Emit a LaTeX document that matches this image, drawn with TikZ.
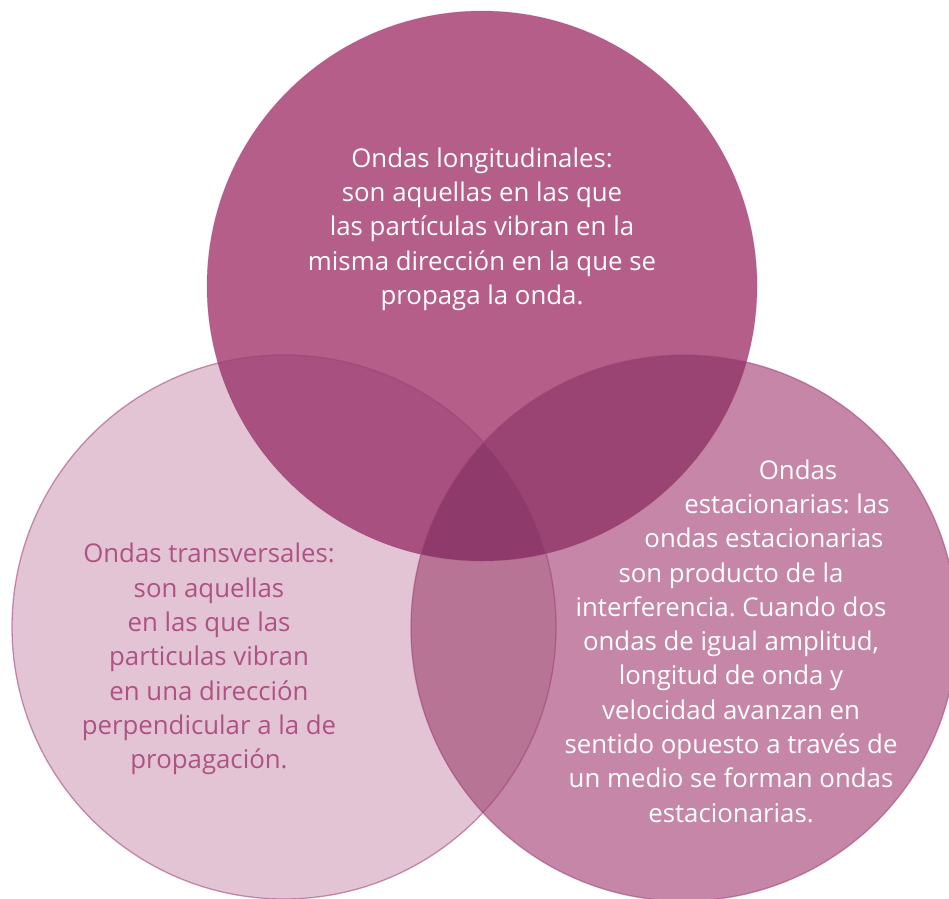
\documentclass[tikz,border=0pt]{standalone}
\usepackage{fontspec}
\setmainfont{Open Sans}
\frenchspacing
\definecolor{cT}{HTML}{B55E8A}
\definecolor{cL}{HTML}{E2C4D4}
\definecolor{cR}{HTML}{C686A8}
\definecolor{cTL}{HTML}{A8507F}
\definecolor{cTR}{HTML}{9A4473}
\definecolor{cLR}{HTML}{B87495}
\definecolor{cTLR}{HTML}{8E3A6B}
\definecolor{cEdge}{HTML}{A04075}
\definecolor{cTxtL}{HTML}{AE5283}
\tikzset{
  edge/.style={draw=cEdge, draw opacity=0.55, line width=1.3pt},
  txt/.style={align=center, inner sep=0pt, font=\fontsize{25.8}{34.3}\selectfont},
}
\begin{document}
\begin{tikzpicture}[x=1pt,y=-1pt]
\useasboundingbox (0,0) rectangle (949,898);
\fill[white] (0,0) rectangle (949,898);
\coordinate (T) at (482,286);
\coordinate (L) at (284,627);
\coordinate (R) at (684,628);
\fill[cL] (L) circle (272pt);
\fill[cR] (R) circle (273pt);
\fill[cT] (T) circle (275pt);
\begin{scope}
  \clip (T) circle (275pt);
  \fill[cTL] (L) circle (272pt);
  \fill[cTR] (R) circle (273pt);
\end{scope}
\begin{scope}
  \clip (L) circle (272pt);
  \fill[cLR] (R) circle (273pt);
  \clip (R) circle (273pt);
  \fill[cTLR] (T) circle (275pt);
\end{scope}
\draw[edge] (L) circle (272pt);
\draw[edge] (R) circle (273pt);
\draw[draw=cEdge, draw opacity=0.25, line width=0.8pt] (T) circle (275pt);
\node[txt, text=white] (top) at (482,229) {Ondas longitudinales:\\son aquellas en las que\\las partículas vibran en la\\misma dirección en la que se\\propaga la onda.};
\node[txt, text=cTxtL] (left) at (209,659) {Ondas transversales:\\son aquellas\\en las que las\\particulas vibran\\en una dirección\\perpendicular a la de\\propagación.};
\node[txt, text=white] (right) at (731,641) {\hspace*{134pt}Ondas\\\hspace*{112pt}estacionarias: las\\\hspace*{66pt}ondas estacionarias\\son producto de la\\interferencia. Cuando dos\\ondas de igual amplitud,\\longitud de onda y\\velocidad avanzan en\\sentido opuesto a través de\\un medio se forman ondas\\estacionarias.};
\end{tikzpicture}
\end{document}
